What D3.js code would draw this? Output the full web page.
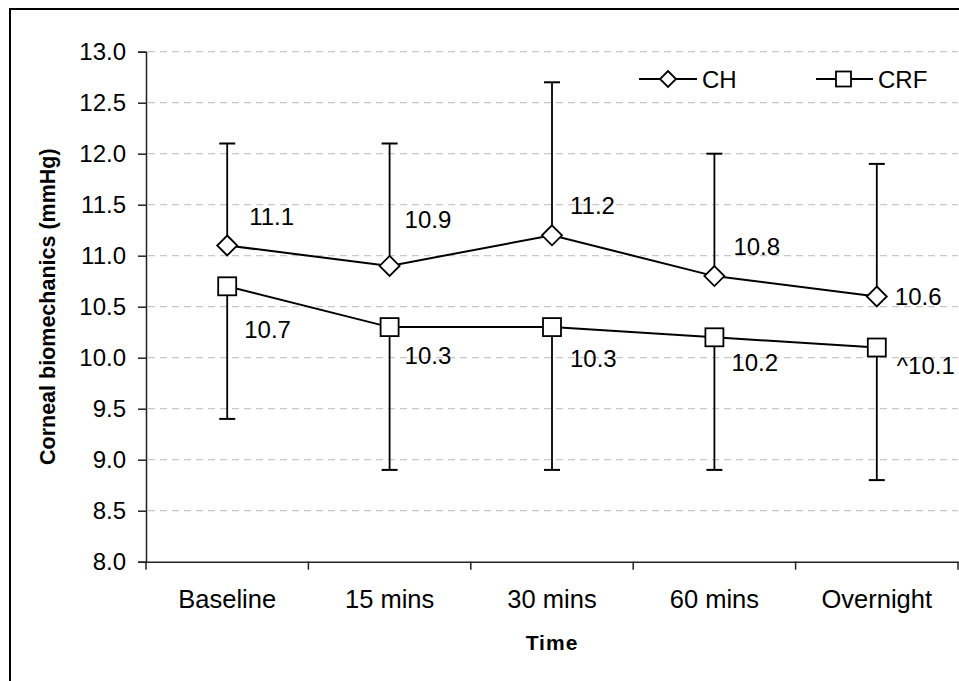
<!DOCTYPE html>
<html>
<head>
<meta charset="utf-8">
<script src="https://cdn.jsdelivr.net/npm/d3@7"></script>
<style>
  body { margin: 0; background: #fff; }
  svg { display: block; font-family: Arial, "Liberation Sans", sans-serif; }
</style>
</head>
<body>
<script>
// data
const times = ["Baseline", "15 mins", "30 mins", "60 mins", "Overnight"]
const chValues = [11.1, 10.9, 11.2, 10.8, 10.6]
const chUpper = [12.1, 12.1, 12.7, 12.0, 11.9]
const crfValues = [10.7, 10.3, 10.3, 10.2, 10.1]
const crfLower = [9.4, 8.9, 8.9, 8.9, 8.8]
const chLabels = ["11.1", "10.9", "11.2", "10.8", "10.6"]
const crfLabels = ["10.7", "10.3", "10.3", "10.2", "^10.1"]
const yTicks = [8.0, 8.5, 9.0, 9.5, 10.0, 10.5, 11.0, 11.5, 12.0, 12.5, 13.0]

// label nudges (dx to text start, dy to baseline)
const chLabelPos = [[22, -21], [15, -38], [18, -21], [19, -21], [18, 8]]
const crfLabelPos = [[17, 52], [15, 37], [18, 40], [17, 34], [20, 26]]

const W = 959, H = 681
const svg = d3.select("body").append("svg")
    .attr("width", W)
    .attr("height", H)

// outer frame
svg.append("rect")
    .attr("x", 10).attr("y", 9)
    .attr("width", 970).attr("height", 700)
    .attr("fill", "none")
    .attr("stroke", "#000")
    .attr("stroke-width", 2)

const plot = { left: 146, right: 958, top: 51.7, bottom: 561.7 }

const x = d3.scaleBand()
    .domain(times)
    .range([plot.left, plot.right])

const y = d3.scaleLinear()
    .domain([8, 13])
    .range([plot.bottom, plot.top])

const cx = d => x(d) + x.bandwidth() / 2

// gridlines
svg.append("g")
    .selectAll("line")
    .data(yTicks.filter(v => v > 8))
    .join("line")
    .attr("x1", plot.left + 2)
    .attr("x2", plot.right)
    .attr("y1", d => y(d))
    .attr("y2", d => y(d))
    .attr("stroke", "#c8c8c8")
    .attr("stroke-width", 1.3)
    .attr("stroke-dasharray", "7,5")

// y axis
const yAxis = svg.append("g")
    .attr("transform", `translate(${plot.left},0)`)
    .call(d3.axisLeft(y).tickValues(yTicks).tickFormat(d3.format(".1f")).tickSize(8).tickPadding(12))
yAxis.select(".domain").attr("stroke", "#222").attr("stroke-width", 1.5)
yAxis.selectAll(".tick line").attr("stroke", "#222").attr("stroke-width", 1.5)
yAxis.selectAll(".tick text")
    .attr("font-size", 24)
    .attr("font-family", "Arial, 'Liberation Sans', sans-serif")
    .attr("fill", "#000")

// x axis
const xAxis = svg.append("g")
    .attr("transform", `translate(0,${plot.bottom})`)
    .call(d3.axisBottom(x).tickSize(0).tickPadding(28))
xAxis.select(".domain").attr("stroke", "#222").attr("stroke-width", 1.5)
xAxis.selectAll(".tick text")
    .attr("font-size", 25.5)
    .attr("font-family", "Arial, 'Liberation Sans', sans-serif")
    .attr("fill", "#000")
// ticks between categories
svg.append("g")
    .selectAll("line")
    .data(times.concat(["end"]))
    .join("line")
    .attr("x1", (d, i) => i < times.length ? x(d) : plot.right)
    .attr("x2", (d, i) => i < times.length ? x(d) : plot.right)
    .attr("y1", plot.bottom)
    .attr("y2", plot.bottom + 8)
    .attr("stroke", "#222")
    .attr("stroke-width", 1.5)

// axis titles
svg.append("text")
    .attr("transform", `translate(55,${(plot.top + plot.bottom) / 2}) rotate(-90)`)
    .attr("text-anchor", "middle")
    .attr("font-size", 21.5)
    .attr("font-weight", "bold")
    .text("Corneal biomechanics (mmHg)")

svg.append("text")
    .attr("x", (plot.left + plot.right) / 2)
    .attr("y", 650)
    .attr("text-anchor", "middle")
    .attr("font-size", 21)
    .attr("font-weight", "bold")
    .attr("letter-spacing", 1)
    .text("Time")

// error bars
const capW = 8
const chG = svg.append("g")
chG.selectAll("line.err")
    .data(times)
    .join("line")
    .attr("class", "err")
    .attr("x1", d => cx(d)).attr("x2", d => cx(d))
    .attr("y1", (d, i) => y(chValues[i]))
    .attr("y2", (d, i) => y(chUpper[i]))
    .attr("stroke", "#000").attr("stroke-width", 1.8)
chG.selectAll("line.cap")
    .data(times)
    .join("line")
    .attr("class", "cap")
    .attr("x1", d => cx(d) - capW).attr("x2", d => cx(d) + capW)
    .attr("y1", (d, i) => y(chUpper[i]))
    .attr("y2", (d, i) => y(chUpper[i]))
    .attr("stroke", "#000").attr("stroke-width", 2)

const crfG = svg.append("g")
crfG.selectAll("line.err")
    .data(times)
    .join("line")
    .attr("class", "err")
    .attr("x1", d => cx(d)).attr("x2", d => cx(d))
    .attr("y1", (d, i) => y(crfValues[i]))
    .attr("y2", (d, i) => y(crfLower[i]))
    .attr("stroke", "#000").attr("stroke-width", 1.8)
crfG.selectAll("line.cap")
    .data(times)
    .join("line")
    .attr("class", "cap")
    .attr("x1", d => cx(d) - capW).attr("x2", d => cx(d) + capW)
    .attr("y1", (d, i) => y(crfLower[i]))
    .attr("y2", (d, i) => y(crfLower[i]))
    .attr("stroke", "#000").attr("stroke-width", 2)

// lines
const line = d3.line()
    .x(d => cx(d.t))
    .y(d => y(d.v))

svg.append("path")
    .datum(times.map((t, i) => ({ t: t, v: chValues[i] })))
    .attr("d", line)
    .attr("fill", "none")
    .attr("stroke", "#000")
    .attr("stroke-width", 2)

svg.append("path")
    .datum(times.map((t, i) => ({ t: t, v: crfValues[i] })))
    .attr("d", line)
    .attr("fill", "none")
    .attr("stroke", "#000")
    .attr("stroke-width", 2)

// markers
const diamond = r => `M0,${-r}L${r},0L0,${r}L${-r},0Z`

svg.append("g")
    .selectAll("path")
    .data(times)
    .join("path")
    .attr("transform", (d, i) => `translate(${cx(d)},${y(chValues[i])})`)
    .attr("d", diamond(10))
    .attr("fill", "#fff")
    .attr("stroke", "#000")
    .attr("stroke-width", 1.8)

svg.append("g")
    .selectAll("rect")
    .data(times)
    .join("rect")
    .attr("x", d => cx(d) - 9)
    .attr("y", (d, i) => y(crfValues[i]) - 9)
    .attr("width", 18)
    .attr("height", 18)
    .attr("fill", "#fff")
    .attr("stroke", "#000")
    .attr("stroke-width", 1.8)

// value labels
svg.append("g")
    .selectAll("text")
    .data(times)
    .join("text")
    .attr("x", (d, i) => cx(d) + chLabelPos[i][0])
    .attr("y", (d, i) => y(chValues[i]) + chLabelPos[i][1])
    .attr("font-size", 24)
    .text((d, i) => chLabels[i])

svg.append("g")
    .selectAll("text")
    .data(times)
    .join("text")
    .attr("x", (d, i) => cx(d) + crfLabelPos[i][0])
    .attr("y", (d, i) => y(crfValues[i]) + crfLabelPos[i][1])
    .attr("font-size", 24)
    .text((d, i) => crfLabels[i])

// legend
const legend = svg.append("g")
const legCH = legend.append("g").attr("transform", "translate(639,79)")
legCH.append("line").attr("x1", 0).attr("x2", 58).attr("stroke", "#000").attr("stroke-width", 2)
legCH.append("path").attr("transform", "translate(29,0)").attr("d", diamond(8))
    .attr("fill", "#fff").attr("stroke", "#000").attr("stroke-width", 1.8)
legCH.append("text").attr("x", 63).attr("y", 8.5).attr("font-size", 24).text("CH")

const legCRF = legend.append("g").attr("transform", "translate(816,79)")
legCRF.append("line").attr("x1", 0).attr("x2", 57).attr("stroke", "#000").attr("stroke-width", 2)
legCRF.append("rect").attr("x", 20).attr("y", -7.5).attr("width", 15).attr("height", 15)
    .attr("fill", "#fff").attr("stroke", "#000").attr("stroke-width", 1.8)
legCRF.append("text").attr("x", 62).attr("y", 8.5).attr("font-size", 24).text("CRF")
</script>
</body>
</html>
